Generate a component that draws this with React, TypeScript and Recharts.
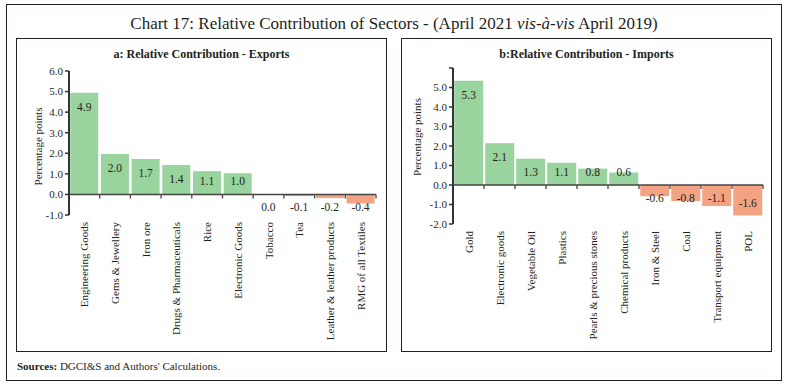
import { BarChart, Bar, XAxis, YAxis, Cell, LabelList, ReferenceLine } from 'recharts'

const exportSectors = ['Engineering Goods', 'Gems & Jewellery', 'Iron ore', 'Drugs & Pharmaceuticals', 'Rice', 'Electronic Goods', 'Tobacco', 'Tea', 'Leather & leather products', 'RMG of all Textiles']
const exportValues = [4.94, 1.96, 1.72, 1.43, 1.13, 1.03, -0.02, -0.08, -0.18, -0.44]
const exportTicks = [-1, 0, 1, 2, 3, 4, 5, 6]

const importSectors = ['Gold', 'Electronic goods', 'Vegetable Oil', 'Plastics', 'Pearls & precious stones', 'Chemical products', 'Iron & Steel', 'Coal', 'Transport equipment', 'POL']
const importValues = [5.34, 2.14, 1.34, 1.14, 0.84, 0.64, -0.58, -0.82, -1.08, -1.56]
const importTicks = [-2, -1, 0, 1, 2, 3, 4, 5, 6]

const GREEN = '#99d39d'
const ORANGE = '#f3a382'
const INK = '#231f20'
const SERIF = '"Liberation Serif", "Times New Roman", serif'

function fmt(v: number) {
  const s = v.toFixed(1)
  return s === '-0.0' ? '0.0' : s
}

function BarValueLabel(props: any) {
  const vb = props.viewBox || props
  const x = vb.x ?? props.x
  const y = vb.y ?? props.y
  const width = vb.width ?? props.width
  const height = vb.height ?? props.height
  const value = props.value as number
  const top = Math.min(y, y + height)
  const bottom = Math.max(y, y + height)
  // inside the end of the bar, but never closer to the zero line than a text height
  const cy = value >= 0 ? Math.min(top + 14, bottom - 13) : Math.max(bottom - 12, top + 12.5)
  return (
    <text x={x + width / 2} y={cy} textAnchor="middle" dominantBaseline="central" fontSize={11.5} fill={INK} fontFamily={SERIF}>
      {fmt(value)}
    </text>
  )
}

function SectorTick(props: any) {
  const { x, y, payload } = props
  return (
    <text x={x} y={y} transform={`rotate(-90 ${x} ${y})`} textAnchor="end" dominantBaseline="central" fontSize={11} fill={INK} fontFamily={SERIF}>
      {payload.value}
    </text>
  )
}

// zero line with tick marks between the categories
function zeroAxis(count: number) {
  return (props: any) => {
    const { x1, y1, x2 } = props
    const step = (x2 - x1) / count
    return (
      <g>
        <line x1={x1} y1={y1} x2={x2} y2={y1} stroke="#444" strokeWidth={1.5} />
        {Array.from({ length: count }, (_, i) => (
          <line key={i} x1={x1 + step * (i + 1)} x2={x1 + step * (i + 1)} y1={y1} y2={y1 + 4} stroke="#444" strokeWidth={1.3} />
        ))}
      </g>
    )
  }
}

interface PanelProps {
  sectors: string[]
  values: number[]
  ticks: number[]
  hideTop?: boolean
  axisWidth: number
  top: number
  right: number
  bottom: number
  xHeight: number
  labelX: number
  labelDy: number
}

function PanelChart({ sectors, values, ticks, hideTop, axisWidth, top, right, bottom, xHeight, labelX, labelDy }: PanelProps) {
  const data = sectors.map((name, i) => ({ name, value: values[i] }))
  const maxTick = ticks[ticks.length - 1]
  return (
    <BarChart width={369} height={312} data={data} margin={{ top, right, bottom, left: 0 }} barCategoryGap="4%">
      <XAxis dataKey="name" interval={0} axisLine={false} tickLine={false} tickSize={5} tickMargin={2} height={xHeight} tick={<SectorTick />} />
      <YAxis
        type="number"
        domain={[ticks[0], maxTick]}
        ticks={ticks}
        width={axisWidth}
        axisLine={{ stroke: '#333', strokeWidth: 2 }}
        tickLine={{ stroke: '#333', strokeWidth: 1.5 }}
        tickSize={4}
        tick={{ fontSize: 11, fill: INK, fontFamily: SERIF }}
        tickFormatter={(v: number) => (hideTop && v === maxTick ? '' : v.toFixed(1))}
        label={{
          content: (p: any) => {
            const vb = p.viewBox
            const lx = vb.x + labelX
            const ly = vb.y + vb.height / 2 + labelDy
            return (
              <text x={lx} y={ly} transform={`rotate(-90 ${lx} ${ly})`} textAnchor="middle" dominantBaseline="central" fontSize={11} fill={INK} fontFamily={SERIF}>
                Percentage points
              </text>
            )
          },
        }}
      />
      <Bar dataKey="value" isAnimationActive={false}>
        {data.map((d, i) => (
          <Cell key={i} fill={d.value >= 0 ? GREEN : ORANGE} />
        ))}
        <LabelList dataKey="value" content={<BarValueLabel />} />
      </Bar>
      <ReferenceLine y={0} shape={zeroAxis(sectors.length)} />
    </BarChart>
  )
}

const boxStyle = (left: number, top: number, width: number, height: number): React.CSSProperties => ({
  position: 'absolute',
  left,
  top,
  width,
  height,
  border: `1.5px solid ${INK}`,
  boxSizing: 'border-box',
})

export default function App() {
  return (
    <div style={{ position: 'absolute', left: 0, top: 0, width: 788, height: 388, background: '#fff', fontFamily: SERIF, color: INK }}>
      <div style={boxStyle(6, 4, 776, 377)} />
      <div style={{ position: 'absolute', left: 0, top: 13, width: 788, textAlign: 'center', fontSize: 17, lineHeight: '22px' }}>
        Chart 17: Relative Contribution of Sectors - (April 2021 <i>vis-à-vis</i> April 2019)
      </div>

      <div style={boxStyle(16, 38, 371, 314)} />
      <div style={{ position: 'absolute', left: 16, top: 46, width: 371, textAlign: 'center', fontSize: 12, fontWeight: 'bold', lineHeight: '16px' }}>
        a: Relative Contribution - Exports
      </div>
      <div style={{ position: 'absolute', left: 17, top: 39 }}>
        <PanelChart sectors={exportSectors} values={exportValues} ticks={exportTicks} axisWidth={52} top={32} right={10} bottom={6} xHeight={130} labelX={21} labelDy={3.5} />
      </div>

      <div style={boxStyle(401, 38, 371, 314)} />
      <div style={{ position: 'absolute', left: 401, top: 46, width: 371, textAlign: 'center', fontSize: 12, fontWeight: 'bold', lineHeight: '16px' }}>
        b:Relative Contribution - Imports
      </div>
      <div style={{ position: 'absolute', left: 402, top: 39 }}>
        <PanelChart sectors={importSectors} values={importValues} ticks={importTicks} hideTop axisWidth={51} top={29} right={8} bottom={5} xHeight={122} labelX={15} labelDy={-9} />
      </div>

      <div style={{ position: 'absolute', left: 17, top: 359, fontSize: 11, lineHeight: '14px' }}>
        <b>Sources:</b> DGCI&amp;S and Authors' Calculations.
      </div>
    </div>
  )
}
